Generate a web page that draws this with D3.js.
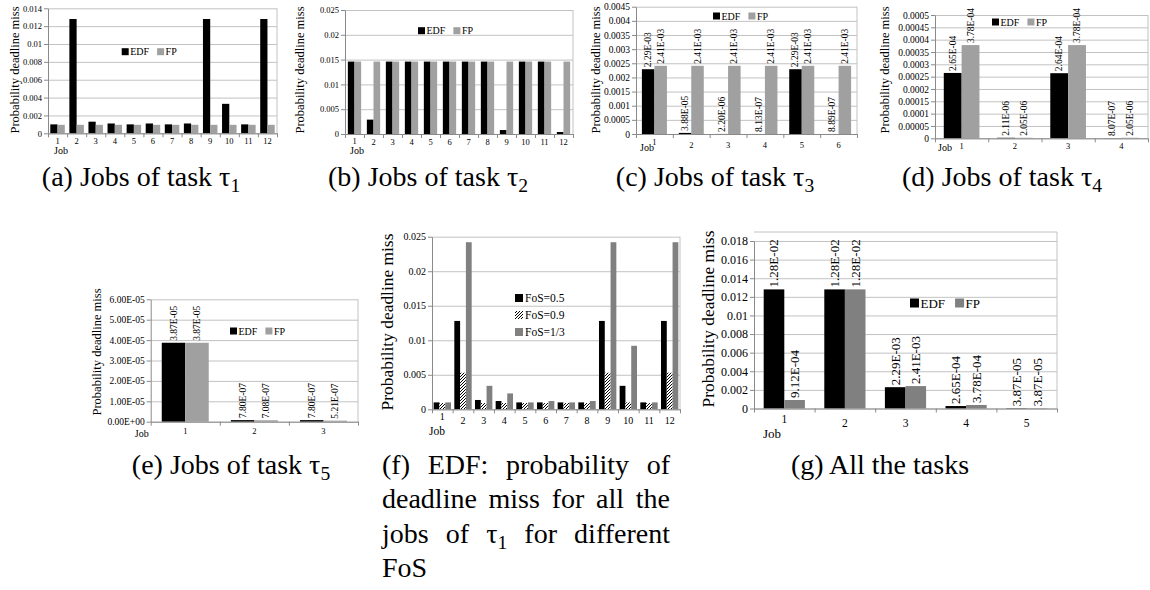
<!DOCTYPE html>
<html><head><meta charset="utf-8">
<script src="https://cdn.jsdelivr.net/npm/d3@7"></script>
<style>
body{margin:0;background:#fff}
svg{display:block}
text{font-family:"Liberation Serif","Times New Roman",serif;fill:#000}
</style>
</head><body>
<svg id="chart" width="1150" height="590"></svg>
<script>
// ---------------- data ----------------
const jobs12 = ["1","2","3","4","5","6","7","8","9","10","11","12"];
const aEDF = [0.001,0.0128,0.0013,0.0011,0.001,0.0011,0.001,0.0011,0.0128,0.0033,0.001,0.0128];
const aFP  = [0.00095,0.00095,0.00095,0.00095,0.00095,0.00095,0.00095,0.00095,0.00095,0.00095,0.00095,0.00095];
const aTicks = ["0","0.002","0.004","0.006","0.008","0.01","0.012","0.014"];

const bEDF = [0.0146,0.0029,0.0146,0.0146,0.0146,0.0146,0.0146,0.0146,0.0008,0.0146,0.0146,0.0004];
const bFP  = [0.0146,0.0146,0.0146,0.0146,0.0146,0.0146,0.0146,0.0146,0.0146,0.0146,0.0146,0.0146];
const bTicks = ["0","0.005","0.01","0.015","0.02","0.025"];

const jobs6 = ["1","2","3","4","5","6"];
const cEDFLabels = ["2.29E-03","3.88E-05","2.20E-06","8.13E-07","2.29E-03","8.89E-07"];
const cFPLabels  = ["2.41E-03","2.41E-03","2.41E-03","2.41E-03","2.41E-03","2.41E-03"];
const cTicks = ["0","0.0005","0.001","0.0015","0.002","0.0025","0.003","0.0035","0.004","0.0045"];

const jobs4 = ["1","2","3","4"];
const dEDFLabels = ["2.65E-04","2.11E-06","2.64E-04","8.07E-07"];
const dFPLabels  = ["3.78E-04","2.05E-06","3.78E-04","2.05E-06"];
const dTicks = ["0","0.00005","0.0001","0.00015","0.0002","0.00025","0.0003","0.00035","0.0004","0.00045","0.0005"];

const jobs3 = ["1","2","3"];
const eEDFLabels = ["3.87E-05","7.80E-07","7.80E-07"];
const eFPLabels  = ["3.87E-05","7.08E-07","5.21E-07"];
const eTicks = ["0.00E+00","1.00E-05","2.00E-05","3.00E-05","4.00E-05","5.00E-05","6.00E-05"];

const fFoS05 = [0.001,0.0128,0.00135,0.0012,0.001,0.001,0.001,0.001,0.0128,0.0034,0.001,0.0128];
const fFoS09 = [0.0009,0.0053,0.0009,0.0009,0.0009,0.0009,0.0009,0.0009,0.0053,0.001,0.0009,0.0053];
const fFoS13 = [0.001,0.0242,0.0034,0.0023,0.001,0.0012,0.001,0.0012,0.0242,0.0092,0.001,0.0242];
const fTicks = ["0","0.005","0.01","0.015","0.02","0.025"];

const tasks5 = ["1","2","3","4","5"];
const gEDFLabels = ["1.28E-02","1.28E-02","2.29E-03","2.65E-04","3.87E-05"];
const gFPLabels  = ["9.12E-04","1.28E-02","2.41E-03","3.78E-04","3.87E-05"];
const gTicks = ["0","0.002","0.004","0.006","0.008","0.01","0.012","0.014","0.016","0.018"];

const yTitle = "Probability deadline miss";
const xTitle = "Job";
const topCaptions = ["(a) Jobs of task τ","(b) Jobs of task τ","(c) Jobs of task τ","(d) Jobs of task τ"];
const topSubs = ["1","2","3","4"];
const eCaption = ["(e) Jobs of task τ","5"];
const gCaption = "(g) All the tasks";
const fCaptionLines = [["(f)","EDF:","probability","of"],["deadline","miss","for","all","the"],["jobs","of","τ|1","for","different"],["FoS"]];

// ---------------- drawing ----------------
const svg = d3.select("#chart");
const defs = svg.append("defs");
const pat = defs.append("pattern").attr("id","hatch").attr("patternUnits","userSpaceOnUse")
  .attr("width",3).attr("height",3);
pat.append("rect").attr("width",3).attr("height",3).attr("fill","#fff");
pat.append("path").attr("d","M-1,1 L1,-1 M0,3 L3,0 M2,4 L4,2").attr("stroke","#000").attr("stroke-width",1);

const GRID = "#c2c2c2", AXIS = "#8a8a8a";

function panel(o){
  const g = svg.append("g");
  const x = d3.scaleBand().domain(o.cats).range([o.l,o.r]);
  const tv = o.ticks.map(Number);
  const y = d3.scaleLinear().domain([0,d3.max(tv)]).range([o.b,o.t]);
  const top = o.frameTop !== undefined ? o.frameTop : o.t;
  // gridlines
  g.append("g").attr("transform",`translate(${o.l},0)`)
    .call(d3.axisLeft(y).tickValues(tv).tickSize(-(o.r-o.l)).tickFormat(""))
    .call(s=>{s.select(".domain").remove();s.selectAll("line").attr("stroke",GRID);});
  g.append("line").attr("x1",o.r).attr("x2",o.r).attr("y1",top).attr("y2",o.b).attr("stroke",GRID);
  if(top!==o.t) g.append("line").attr("x1",o.l).attr("x2",o.r).attr("y1",top).attr("y2",top).attr("stroke",GRID);
  // bars
  const n = o.series.length;
  const po = (1/o.barFrac - n)/2;
  const xi = d3.scaleBand().domain(d3.range(n)).range([0,x.bandwidth()]).paddingInner(0).paddingOuter(po);
  o.series.forEach((s,si)=>{
    g.append("g").selectAll("rect").data(s.values).join("rect")
      .attr("x",(d,i)=>x(o.cats[i])+xi(si)).attr("width",xi.bandwidth())
      .attr("y",d=>y(d)).attr("height",d=>Math.max(0,o.b-y(d))).attr("fill",s.fill);
  });
  // value labels
  o.series.forEach((s,si)=>{
    if(!s.labels) return;
    g.append("g").selectAll("text").data(s.labels).join("text")
      .attr("transform",(d,i)=>{const cx=x(o.cats[i])+xi(si)+xi.bandwidth()/2, cy=y(+d)-2;return `translate(${cx},${cy}) rotate(-90)`;})
      .attr("text-anchor","start").attr("dominant-baseline","central")
      .attr("font-size",o.valSize).text(d=>d);
  });
  // y axis
  g.append("g").attr("transform",`translate(${o.l},0)`)
    .call(d3.axisLeft(y).tickValues(tv).tickFormat((d,i)=>o.ticks[i]).tickSize(4).tickSizeOuter(0).tickPadding(2))
    .attr("font-size",o.tickSize)
    .call(s=>{s.select(".domain").attr("stroke",AXIS);s.selectAll("line").attr("stroke",AXIS);});
  // x axis with ticks between categories
  const xb = d3.scaleLinear().domain([0,o.cats.length]).range([o.l,o.r]);
  g.append("g").attr("transform",`translate(0,${o.b})`)
    .call(d3.axisBottom(xb).tickValues(d3.range(o.cats.length+1)).tickSize(4).tickSizeOuter(0).tickFormat(""))
    .call(s=>{s.select(".domain").attr("stroke",AXIS);s.selectAll("line").attr("stroke",AXIS);});
  const xl = g.append("g").attr("transform",`translate(0,${o.b})`)
    .call(d3.axisBottom(x).tickSize(0).tickPadding(o.catDy-0.35*o.catSize))
    .attr("font-size",o.catSize)
    .call(s=>{s.select(".domain").remove();});
  xl.selectAll(".tick").filter((d,i)=>i===0).select("text")
    .attr("y",o.catDy-0.35*o.catSize+o.firstDy);
  // axis titles
  g.append("text").attr("x",o.jobX).attr("y",o.jobY).attr("text-anchor","middle")
    .attr("dominant-baseline","central").attr("font-size",o.catSize+1.5).text(xTitle);
  g.append("text").attr("transform",`translate(${o.ylX},${o.ylY}) rotate(-90)`)
    .attr("text-anchor","middle").attr("dominant-baseline","central")
    .attr("font-size",o.ylSize).text(yTitle);
  // legend
  const L = o.legend;
  if(L.vertical){
    o.series.forEach((s,si)=>{
      const yy=L.y+si*L.step;
      g.append("rect").attr("x",L.x).attr("y",yy-L.sq/2).attr("width",L.sq).attr("height",L.sq).attr("fill",s.fill);
      g.append("text").attr("x",L.x+L.sq+2).attr("y",yy).attr("dominant-baseline","central")
        .attr("font-size",L.size).text(s.name);
    });
  } else {
    let cx=L.x;
    o.series.forEach(s=>{
      g.append("rect").attr("x",cx).attr("y",L.y-L.sq/2).attr("width",L.sq).attr("height",L.sq).attr("fill",s.fill);
      const t=g.append("text").attr("x",cx+L.sq+1.5).attr("y",L.y).attr("dominant-baseline","central")
        .attr("font-size",L.size).text(s.name);
      cx += L.sq+1.5+t.node().getComputedTextLength()+L.gap;
    });
  }
}

const BLK="#000", LG="#a0a0a0", DG="#808080";

panel({cats:jobs12,ticks:aTicks,l:48,r:277,t:8.3,b:133.3,barFrac:0.38,tickSize:8.5,catSize:8.5,catDy:8,firstDy:0,
  series:[{name:"EDF",values:aEDF,fill:BLK},{name:"FP",values:aFP,fill:LG}],
  jobX:61,jobY:150,ylX:15,ylY:70,ylSize:12.5,valSize:9,
  legend:{x:121.7,y:51.7,sq:7,size:10,gap:8}});

panel({cats:jobs12,ticks:bTicks,l:345,r:573,t:10,b:134,barFrac:0.35,tickSize:8.5,catSize:8.5,catDy:8,firstDy:-1,
  series:[{name:"EDF",values:bEDF,fill:BLK},{name:"FP",values:bFP,fill:LG}],
  jobX:357,jobY:150,ylX:300,ylY:70,ylSize:12.5,valSize:9,
  legend:{x:418,y:30.7,sq:7,size:10,gap:8}});

panel({cats:jobs6,ticks:cTicks,l:636,r:857,t:6.7,b:134,barFrac:0.34,tickSize:9.5,catSize:8.5,catDy:11,firstDy:-3,
  series:[{name:"EDF",values:cEDFLabels.map(Number),labels:cEDFLabels,fill:BLK},{name:"FP",values:cFPLabels.map(Number),labels:cFPLabels,fill:LG}],
  jobX:647,jobY:147,ylX:596,ylY:70,ylSize:12.5,valSize:9.5,
  legend:{x:713,y:16,sq:7,size:10,gap:8}});

panel({cats:jobs4,ticks:dTicks,l:935,r:1148,t:15,b:138.3,barFrac:0.335,tickSize:9.5,catSize:8.5,catDy:8,firstDy:0,
  series:[{name:"EDF",values:dEDFLabels.map(Number),labels:dEDFLabels,fill:BLK},{name:"FP",values:dFPLabels.map(Number),labels:dFPLabels,fill:LG}],
  jobX:945,jobY:147,ylX:885,ylY:70,ylSize:12.5,valSize:9.5,
  legend:{x:992,y:22,sq:7,size:10,gap:8}});

panel({cats:jobs3,ticks:eTicks,l:150.7,r:358,t:299.3,b:421.7,barFrac:0.34,tickSize:9.5,catSize:8.5,catDy:9,firstDy:0,
  series:[{name:"EDF",values:eEDFLabels.map(Number),labels:eEDFLabels,fill:BLK},{name:"FP",values:eFPLabels.map(Number),labels:eFPLabels,fill:LG}],
  jobX:141.7,jobY:433,ylX:97,ylY:352,ylSize:12.5,valSize:9.5,
  legend:{x:230,y:331,sq:7,size:10,gap:8}});

panel({cats:jobs12,ticks:fTicks,l:432,r:680,t:236.7,b:409.3,barFrac:0.28,tickSize:10,catSize:10,catDy:11,firstDy:-4,
  series:[{name:"FoS=0.5",values:fFoS05,fill:BLK},{name:"FoS=0.9",values:fFoS09,fill:"url(#hatch)"},{name:"FoS=1/3",values:fFoS13,fill:DG}],
  jobX:437,jobY:431,ylX:387,ylY:322,ylSize:17.4,valSize:9,
  legend:{vertical:true,x:515,y:298,step:17,sq:8,size:11.5}});

panel({cats:tasks5,ticks:gTicks,l:754,r:1057,t:241,b:408.5,frameTop:232,barFrac:0.34,tickSize:12,catSize:11.5,catDy:14,firstDy:-4,
  series:[{name:"EDF",values:gEDFLabels.map(Number),labels:gEDFLabels,fill:BLK},{name:"FP",values:gFPLabels.map(Number),labels:gFPLabels,fill:DG}],
  jobX:772,jobY:433,ylX:708,ylY:319,ylSize:17.4,valSize:13,
  legend:{x:910,y:303,sq:9,size:13,gap:10}});

// ---------------- captions ----------------
const CAP = 28;
const capG = svg.append("g").attr("font-size",CAP);
const topCenters = [141,428,715,1002];
topCaptions.forEach((c,i)=>{
  const t = capG.append("text").attr("x",topCenters[i]).attr("y",186).attr("text-anchor","middle").attr("font-size",CAP);
  t.append("tspan").text(c);
  t.append("tspan").attr("font-size",CAP*0.7).attr("dy",6).text(topSubs[i]);
});
{
  const t = capG.append("text").attr("x",231).attr("y",474).attr("text-anchor","middle").attr("font-size",CAP);
  t.append("tspan").text(eCaption[0]);
  t.append("tspan").attr("font-size",CAP*0.7).attr("dy",6).text(eCaption[1]);
}
capG.append("text").attr("x",880).attr("y",474).attr("text-anchor","middle").attr("font-size",CAP).text(gCaption);

// justified caption (f)
const fx0=382, fx1=670, fBase=[474,508,543,577];
fCaptionLines.forEach((words,li)=>{
  const els = words.map(w=>{
    const t = capG.append("text").attr("y",fBase[li]).attr("font-size",CAP);
    if(w.includes("|")){const [m,s]=w.split("|");t.append("tspan").text(m);t.append("tspan").attr("font-size",CAP*0.7).attr("dy",6).text(s);}
    else t.text(w);
    return t;
  });
  const widths = els.map(e=>e.node().getComputedTextLength());
  const total = d3.sum(widths);
  const last = li===fCaptionLines.length-1;
  const gap = (last||els.length<2) ? CAP*0.25 : (fx1-fx0-total)/(els.length-1);
  let cx=fx0;
  els.forEach((e,i)=>{e.attr("x",cx);cx+=widths[i]+gap;});
});
</script>
</body></html>
